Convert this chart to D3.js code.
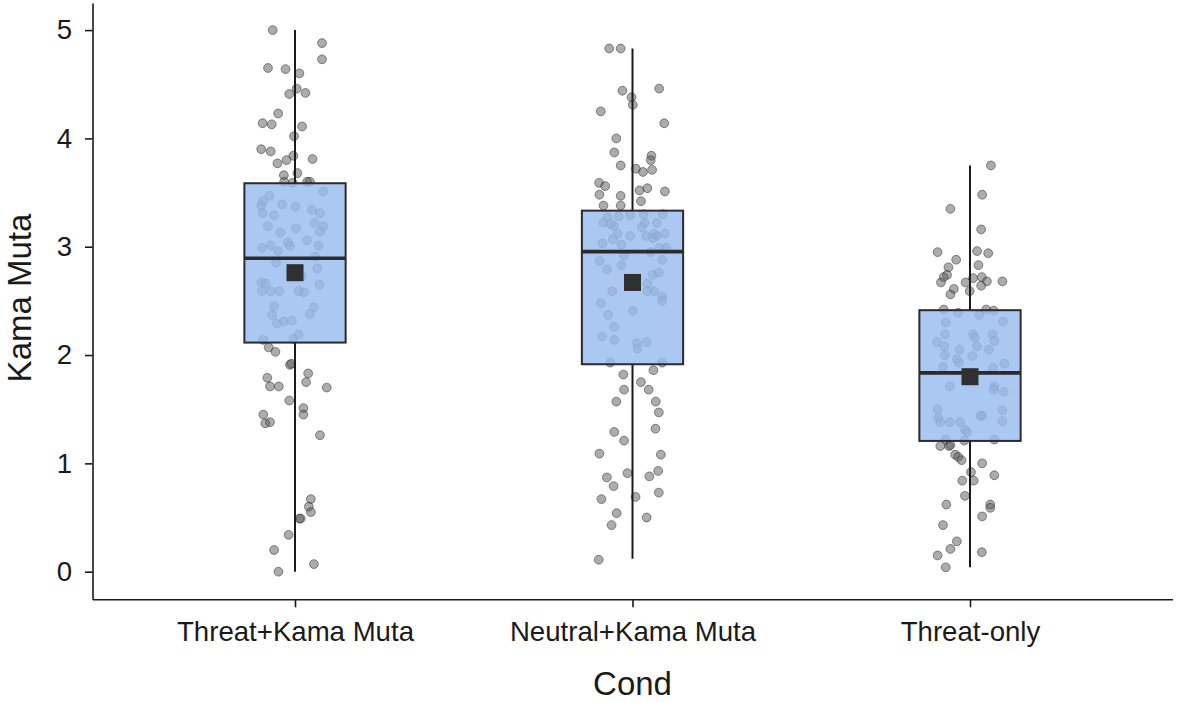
<!DOCTYPE html>
<html>
<head>
<meta charset="utf-8">
<script src="https://cdn.jsdelivr.net/npm/d3@7"></script>
<style>
  html, body { margin: 0; padding: 0; background: #ffffff; }
  svg { display: block; font-family: "Liberation Sans", Arial, Helvetica, sans-serif; }
</style>
</head>
<body>
<svg id="chart" width="1181" height="703"></svg>
<script>
// ---------- data ----------
const categories = ["Threat+Kama Muta", "Neutral+Kama Muta", "Threat-only"];
const yTicks = [0, 1, 2, 3, 4, 5];
const xTitle = "Cond";
const yTitle = "Kama Muta";

// box statistics per category
const q1Values      = [2.115, 1.915, 1.207];
const medianValues  = [2.894, 2.955, 1.835];
const q3Values      = [3.586, 3.333, 2.414];
const whiskerLow    = [0.00, 0.12, 0.04];
const whiskerHigh   = [5.00, 4.83, 3.75];
const meanValues    = [2.76, 2.67, 1.80];

// jittered observations: [value, horizontal jitter in category units]
const threatKamaMuta = [
  [5.00,-0.066],[4.88,0.080],[4.73,0.080],[4.65,-0.080],[4.64,-0.028],[4.60,0.013],[4.46,0.005],
  [4.41,-0.017],[4.42,0.031],[4.23,-0.050],[4.14,-0.096],[4.13,-0.069],[4.11,0.021],[4.02,-0.003],
  [3.90,-0.100],[3.88,-0.072],[3.84,-0.005],[3.80,-0.025],[3.77,-0.052],[3.81,0.052],[3.68,0.007],
  [3.66,-0.033],[3.60,-0.032],[3.59,-0.007],[3.60,0.036],[3.60,0.044],[3.51,0.084],[3.47,-0.076],
  [3.42,-0.096],[3.38,-0.100],[3.39,-0.038],[3.37,0.002],[3.34,0.050],[3.31,0.074],[3.31,-0.096],
  [3.29,-0.062],[3.22,0.058],[3.19,0.084],[3.19,-0.080],[3.14,0.074],[3.17,0.003],[3.13,-0.044],
  [3.06,0.036],[3.04,-0.021],[3.01,-0.015],[2.99,-0.098],[3.01,-0.072],[3.01,0.070],[2.96,-0.050],
  [2.91,0.060],[2.85,-0.056],[2.80,0.066],[2.73,0.020],[2.65,0.072],[2.67,-0.100],[2.66,-0.086],
  [2.59,-0.098],[2.59,-0.072],[2.59,-0.047],[2.59,0.011],[2.58,0.027],[2.45,-0.062],[2.44,0.056],
  [2.37,-0.068],[2.38,0.044],[2.29,-0.054],[2.31,-0.033],[2.32,-0.009],[2.19,0.011],[2.15,-0.005],
  [2.14,-0.094],[2.07,-0.078],[2.03,-0.058],[1.91,-0.015],[1.92,-0.011],[1.83,0.039],[1.79,-0.082],
  [1.75,0.033],[1.71,-0.074],[1.71,-0.048],[1.70,0.094],[1.58,-0.017],[1.51,0.025],[1.45,0.025],
  [1.45,-0.094],[1.37,-0.088],[1.38,-0.074],[1.26,0.074],[0.67,0.047],[0.60,0.041],[0.55,0.047],
  [0.49,0.013],[0.49,0.017],[0.34,-0.019],[0.20,-0.062],[0.07,0.056],[0.00,-0.049]
];
const neutralKamaMuta = [
  [4.83,-0.069],[4.83,-0.035],[4.44,-0.030],[4.46,0.079],[4.38,-0.003],[4.31,0.001],[4.25,-0.094],
  [4.14,0.094],[4.00,-0.048],[3.87,-0.054],[3.84,0.056],[3.80,0.054],[3.75,-0.035],[3.72,0.010],
  [3.69,0.031],[3.71,0.058],[3.59,-0.099],[3.56,-0.081],[3.48,-0.098],[3.47,-0.035],[3.52,0.021],
  [3.54,0.044],[3.51,0.096],[3.42,0.025],[3.38,-0.086],[3.38,-0.035],[3.27,-0.074],[3.22,-0.086],
  [3.28,-0.041],[3.29,-0.007],[3.30,0.033],[3.30,0.090],[3.21,-0.064],[3.22,0.036],[3.22,0.072],
  [3.19,-0.054],[3.18,0.027],[3.12,-0.044],[3.10,-0.007],[3.10,0.041],[3.12,0.064],[3.10,0.072],
  [3.12,0.096],[3.07,-0.058],[3.08,0.060],[3.03,-0.089],[3.02,-0.033],[2.99,0.080],[2.99,0.100],
  [2.92,-0.025],[2.95,0.054],[2.87,-0.098],[2.88,0.088],[2.83,-0.033],[2.79,-0.076],[2.74,0.060],
  [2.76,0.078],[2.66,0.044],[2.59,-0.060],[2.59,0.044],[2.59,0.064],[2.54,0.088],[2.48,-0.094],
  [2.50,0.088],[2.41,0.001],[2.37,-0.072],[2.26,-0.054],[2.17,-0.090],[2.14,-0.054],[2.11,0.013],
  [2.06,0.015],[2.12,0.042],[1.93,-0.066],[1.93,0.088],[1.82,-0.027],[1.86,0.062],[1.75,0.025],
  [1.68,-0.025],[1.68,0.048],[1.57,-0.048],[1.57,0.069],[1.47,0.078],[1.29,-0.054],[1.32,0.068],
  [1.21,-0.025],[1.09,-0.098],[1.08,0.084],[0.91,-0.015],[0.93,0.076],[0.88,0.050],[0.87,-0.076],
  [0.79,-0.056],[0.73,0.078],[0.69,0.009],[0.67,-0.092],[0.54,-0.047],[0.50,0.042],[0.43,-0.062],
  [0.11,-0.100]
];
const threatOnly = [
  [3.75,0.062],[3.48,0.036],[3.35,-0.058],[3.16,0.033],[2.95,-0.096],[2.96,0.021],[2.94,0.054],
  [2.88,-0.041],[2.81,-0.064],[2.83,0.025],[2.74,-0.068],[2.72,-0.078],[2.67,-0.086],[2.67,-0.013],
  [2.71,0.009],[2.72,0.035],[2.68,0.050],[2.64,0.033],[2.68,0.096],[2.61,-0.048],[2.56,-0.058],
  [2.59,-0.001],[2.42,-0.078],[2.42,0.048],[2.41,0.070],[2.39,-0.035],[2.37,0.027],[2.30,-0.072],
  [2.31,0.098],[2.19,-0.074],[2.19,0.009],[2.16,0.015],[2.19,0.066],[2.13,0.072],[2.12,-0.098],
  [2.08,0.021],[2.08,-0.076],[2.05,-0.031],[2.05,0.056],[2.00,-0.074],[1.99,0.007],[1.96,-0.039],
  [1.93,-0.033],[1.92,0.102],[1.88,0.068],[1.89,-0.080],[1.71,-0.060],[1.71,0.072],[1.68,0.070],
  [1.66,0.100],[1.50,-0.096],[1.49,0.096],[1.42,-0.094],[1.38,-0.088],[1.38,-0.060],[1.38,-0.029],
  [1.44,0.031],[1.44,0.036],[1.39,0.096],[1.31,-0.015],[1.29,-0.009],[1.22,-0.072],[1.21,-0.017],
  [1.22,0.072],[1.16,-0.088],[1.16,-0.062],[1.17,-0.058],[1.08,-0.044],[1.06,-0.035],[1.03,-0.025],
  [1.00,0.036],[0.92,0.003],[0.84,-0.023],[0.84,0.011],[0.89,0.072],[0.70,-0.015],[0.62,-0.070],
  [0.62,0.060],[0.59,0.060],[0.51,0.036],[0.43,-0.080],[0.28,-0.039],[0.21,-0.058],[0.15,-0.096],
  [0.18,0.035],[0.04,-0.072]
];
const observations = [threatKamaMuta, neutralKamaMuta, threatOnly];

// ---------- layout ----------
const svg = d3.select("#chart");
const W = 1181, H = 703;
const margin = { left: 92.5, right: 8.5, top: 3, bottom: 103.7 };
const innerW = W - margin.left - margin.right;
const innerH = H - margin.top - margin.bottom;

svg.append("rect").attr("width", W).attr("height", H).attr("fill", "#ffffff");

// ggplot-like discrete x scale: categories at 1..3, limits 0.4..3.6
const x = d3.scaleLinear().domain([0.4, 3.6]).range([0, innerW]);
const y = d3.scaleLinear().domain([-0.255, 5.25]).range([innerH, 0]);

const g = svg.append("g").attr("transform", `translate(${margin.left},${margin.top})`);

const boxHalf = 0.15; // half box width in category units

// points (drawn first, behind semi-transparent boxes)
const pts = g.append("g");
observations.forEach((arr, i) => {
  pts.selectAll(null)
    .data(arr)
    .enter().append("circle")
    .attr("cx", d => x(i + 1 + d[1]))
    .attr("cy", d => y(d[0]))
    .attr("r", 4.4)
    .attr("fill", "rgba(90,90,90,0.5)")
    .attr("stroke", "rgba(40,40,40,0.5)")
    .attr("stroke-width", 1);
});

// boxplots
const stats = categories.map((c, i) => ({
  i, q1: q1Values[i], med: medianValues[i], q3: q3Values[i],
  lo: whiskerLow[i], hi: whiskerHigh[i], mean: meanValues[i]
}));

const bx = g.append("g");
// whiskers
bx.selectAll(".wu").data(stats).enter().append("line")
  .attr("x1", d => x(d.i + 1)).attr("x2", d => x(d.i + 1))
  .attr("y1", d => y(d.q3)).attr("y2", d => y(d.hi))
  .attr("stroke", "#1a1a1a").attr("stroke-width", 2);
bx.selectAll(".wl").data(stats).enter().append("line")
  .attr("x1", d => x(d.i + 1)).attr("x2", d => x(d.i + 1))
  .attr("y1", d => y(d.q1)).attr("y2", d => y(d.lo))
  .attr("stroke", "#1a1a1a").attr("stroke-width", 2);
// boxes
bx.selectAll(".box").data(stats).enter().append("rect")
  .attr("x", d => x(d.i + 1 - boxHalf))
  .attr("width", d => x(d.i + 1 + boxHalf) - x(d.i + 1 - boxHalf))
  .attr("y", d => y(d.q3))
  .attr("height", d => y(d.q1) - y(d.q3))
  .attr("fill", "rgb(153,188,240)")
  .attr("fill-opacity", 0.82)
  .attr("stroke", "#2b2b2b")
  .attr("stroke-width", 2);
// medians
bx.selectAll(".med").data(stats).enter().append("line")
  .attr("x1", d => x(d.i + 1 - boxHalf)).attr("x2", d => x(d.i + 1 + boxHalf))
  .attr("y1", d => y(d.med)).attr("y2", d => y(d.med))
  .attr("stroke", "#2b2b2b").attr("stroke-width", 3.6);
// means (squares)
const sq = 17;
bx.selectAll(".mean").data(stats).enter().append("rect")
  .attr("x", d => x(d.i + 1) - sq / 2)
  .attr("y", d => y(d.mean) - sq / 2)
  .attr("width", sq).attr("height", sq)
  .attr("fill", "#303030");

// axes
const yAxis = d3.axisLeft(y).tickValues(yTicks).tickFormat(d3.format("d"))
  .tickSize(7.5).tickSizeOuter(0).tickPadding(13);
const yg = g.append("g").call(yAxis);

const xAxis = d3.axisBottom(x).tickValues([1, 2, 3])
  .tickFormat(d => categories[d - 1])
  .tickSize(8).tickSizeOuter(0).tickPadding(14.5);
const xg = g.append("g").attr("transform", `translate(0,${innerH})`).call(xAxis);

[yg, xg].forEach(ax => {
  ax.select(".domain").attr("stroke", "#1a1a1a").attr("stroke-width", 1.6);
  ax.selectAll(".tick line").attr("stroke", "#1a1a1a").attr("stroke-width", 1.6);
  ax.selectAll(".tick text")
    .attr("fill", "#1a1a1a")
    .style("font-family", '"Liberation Sans", Arial, Helvetica, sans-serif')
    .style("font-size", "27.6px");
});

// axis titles
svg.append("text")
  .attr("x", margin.left + innerW / 2)
  .attr("y", 695)
  .attr("text-anchor", "middle")
  .attr("fill", "#1a1a1a")
  .style("font-size", "33px")
  .text(xTitle);

svg.append("text")
  .attr("transform", `translate(31,298) rotate(-90)`)
  .attr("text-anchor", "middle")
  .attr("fill", "#1a1a1a")
  .style("font-size", "33px")
  .text(yTitle);
</script>
</body>
</html>
